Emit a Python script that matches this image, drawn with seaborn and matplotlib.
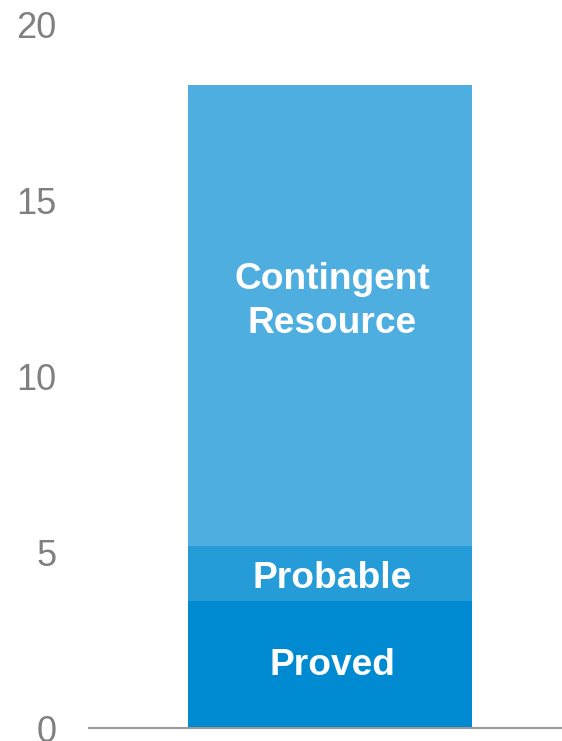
import matplotlib
matplotlib.use("Agg")
import matplotlib.pyplot as plt
import seaborn as sns
import pandas as pd
import numpy as np

# Reserve volumes (stacked bottom to top)
segments = ["Proved", "Probable", "Contingent\nResource"]
values = [3.62, 1.56, 13.1]
colors = ["#008AD2", "#259CD8", "#4DAEDF"]
category = ["Reserves"]
y_ticks = [0, 5, 10, 15, 20]

sns.set_theme(style="white")
plt.rcParams["font.family"] = ["Liberation Sans", "DejaVu Sans"]

fig = plt.figure(figsize=(5.62, 7.41), dpi=100)
ax = fig.add_axes([0.1584, 0.0175, 0.8416, 0.9501])

cum = np.cumsum(values)
# Draw cumulative totals from tallest to shortest so each layer shows its segment
for total, color in zip(cum[::-1], colors[::-1]):
    df = pd.DataFrame({"cat": category, "val": [total]})
    sns.barplot(data=df, x="cat", y="val", color=color, width=0.6,
                saturation=1, ax=ax, linewidth=0)

# Segment labels
bottoms = np.concatenate([[0], cum[:-1]])
offsets = [-0.03, -0.15, 0.38]
for name, b, v, off in zip(segments, bottoms, values, offsets):
    ax.text(0.005, b + v / 2 + off, name, ha="center", va="center",
            color="white", fontsize=26.7, fontweight="bold", linespacing=1.33)

ax.set_xlim(-0.509, 0.491)
ax.set_ylim(0, 20)
ax.set_yticks(y_ticks)
ax.set_yticklabels([str(t) for t in y_ticks])
ax.tick_params(axis="y", length=0, pad=23.5, labelsize=26, labelcolor="#808080")
ax.set_xticks([])
ax.set_xlabel("")
ax.set_ylabel("")
for side in ["left", "right", "top"]:
    ax.spines[side].set_visible(False)
ax.spines["bottom"].set_color("#9A9A9A")
ax.spines["bottom"].set_linewidth(1.5)
ax.set_facecolor("white")

fig.savefig("out.png", dpi=100, facecolor="white")
